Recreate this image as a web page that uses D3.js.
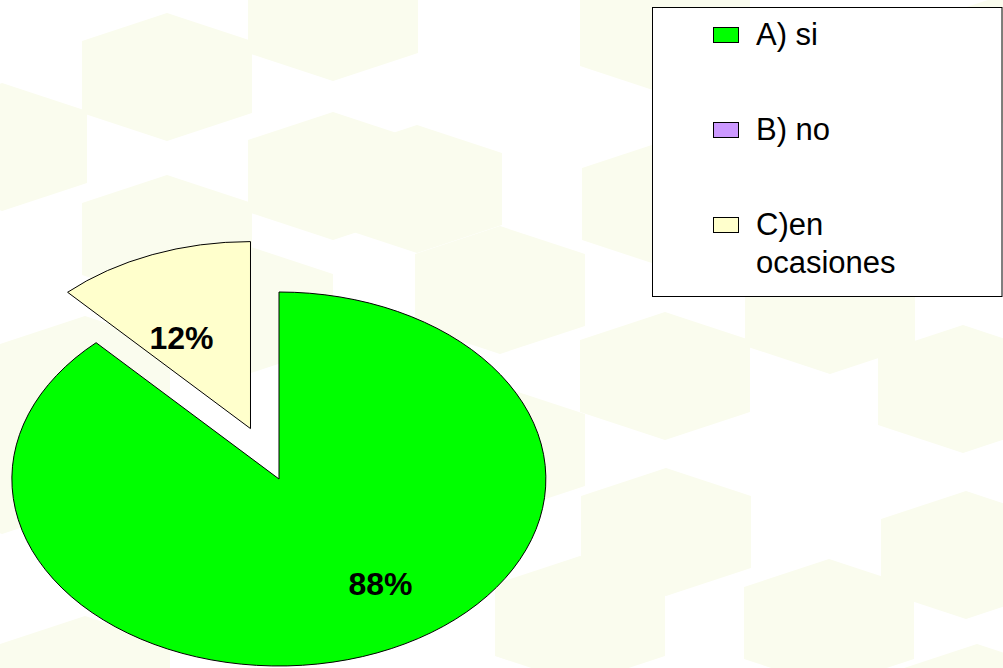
<!DOCTYPE html>
<html>
<head>
<meta charset="utf-8">
<script src="https://cdn.jsdelivr.net/npm/d3@7"></script>
<style>
  html, body { margin: 0; padding: 0; background: #ffffff; }
  svg { display: block; }
</style>
</head>
<body>
<svg id="chart" width="1003" height="668"></svg>
<script>
// ---- data ----
const categories = ["A) si", "B) no", "C)en ocasiones"];
const values = [88, 0, 12];
const labels = ["88%", "", "12%"];
const colors = ["#00ff00", "#cc99ff", "#ffffcc"];
const exploded = [0, 0, 0.29];
// label placement: angle (degrees clockwise from top) and radius fraction
const labelPlacement = [{a: 146, r: 0.68}, null, {a: 332, r: 0.55}];
// background hexagon centres (decorative pattern)
const hexCentres = [
  [167, 77], [333, 17], [2, 147], [333, 176], [417, 189], [167, 239],
  [665, 30], [667, 204], [500, 290], [248, 310], [665, 376], [830, 310],
  [963, 389], [666, 532], [966, 555], [829, 623], [977, 708], [580, 620],
  [500, 450], [85, 680], [2, 470], [374, 372], [85, 380], [830, 120], [1000, 60]
];

const W = 1003, H = 668;
const svg = d3.select("#chart");

// background pattern
const hexPath = ([cx, cy]) => {
  const hw = 85, hh = 64, s = 36;
  return d3.line()([[cx, cy - hh], [cx + hw, cy - s], [cx + hw, cy + s], [cx, cy + hh],
                    [cx - hw, cy + s], [cx - hw, cy - s]]) + "Z";
};
svg.append("g").selectAll("path").data(hexCentres).join("path")
  .attr("d", hexPath).attr("fill", "#fafcee");

// pie
const cx = 279, cy = 479, rx = 267, ry = 187;
const pie = d3.pie().sort(null).value(d => d)(values);
const arc = d3.arc().innerRadius(0).outerRadius(1);

const g = svg.append("g").attr("transform", `translate(${cx},${cy}) scale(${rx},${ry})`);
g.selectAll("path").data(pie).join("path")
  .filter(d => d.data > 0)
  .attr("d", arc)
  .attr("transform", d => {
    const mid = (d.startAngle + d.endAngle) / 2;
    const k = exploded[d.index];
    return `translate(${Math.sin(mid) * k},${-Math.cos(mid) * k})`;
  })
  .attr("fill", d => colors[d.index])
  .attr("stroke", "#000")
  .attr("stroke-width", 1)
  .attr("vector-effect", "non-scaling-stroke");

// labels
pie.forEach(d => {
  const p = labelPlacement[d.index];
  if (!p || d.data <= 0) return;
  const mid = (d.startAngle + d.endAngle) / 2;
  const k = exploded[d.index];
  const ox = Math.sin(mid) * k, oy = -Math.cos(mid) * k;
  const a = p.a * Math.PI / 180;
  const x = cx + (ox + Math.sin(a) * p.r) * rx;
  const y = cy + (oy - Math.cos(a) * p.r) * ry;
  svg.append("text")
    .attr("x", x).attr("y", y)
    .attr("text-anchor", "middle")
    .attr("dominant-baseline", "central")
    .attr("font-family", "Liberation Sans, Arial, sans-serif")
    .attr("font-weight", "bold")
    .attr("font-size", 32)
    .text(labels[d.index]);
});

// legend
const lg = svg.append("g");
lg.append("rect").attr("x", 652.5).attr("y", 7.5).attr("width", 349.5).attr("height", 289)
  .attr("fill", "#ffffff").attr("stroke", "#000").attr("stroke-width", 1);
const ly = d3.scalePoint().domain(categories).range([35, 225]);
const items = lg.selectAll("g.item").data(categories).join("g").attr("class", "item")
  .attr("transform", d => `translate(0,${ly(d)})`);
items.append("rect").attr("x", 713.5).attr("y", -7.5).attr("width", 25).attr("height", 15)
  .attr("fill", (d, i) => colors[i]).attr("stroke", "#000").attr("stroke-width", 1);
items.append("text")
  .attr("font-family", "Liberation Sans, Arial, sans-serif")
  .attr("font-size", 31)
  .attr("fill", "#000")
  .each(function(d) {
    const t = d3.select(this);
    const parts = d.startsWith("C)") ? ["C)en", "ocasiones"] : [d];
    parts.forEach((p, j) => {
      t.append("tspan").attr("x", 756).attr("y", 10 + j * 38).text(p);
    });
  });
</script>
</body>
</html>
